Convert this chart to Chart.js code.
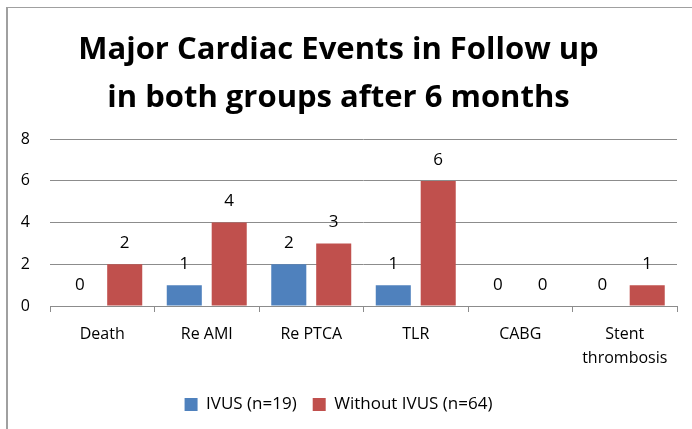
<!DOCTYPE html>
<html>
<head>
<meta charset="utf-8">
<script src="https://cdn.jsdelivr.net/npm/chart.js@4/dist/chart.umd.min.js"></script>
<style>
  body { margin: 0; background: #fff; }
  #wrap { position: relative; width: 692px; height: 429px; }
  #frame {
    position: absolute; left: 6px; top: 7px; right: 0; bottom: 0;
    border-left: 2px solid #a0a0a0; border-top: 1px solid #a0a0a0;
  }
  canvas { position: absolute; left: 0; top: 0; }
</style>
</head>
<body>
<div id="wrap">
  <div id="frame"></div>
  <canvas id="myChart" width="692" height="429"></canvas>
</div>
<script>
var categories = ["Death", "Re AMI", "Re PTCA", "TLR", "CABG", ["Stent", "thrombosis"]];
var ivusValues = [0, 1, 2, 1, 0, 0];
var withoutIvusValues = [2, 4, 3, 6, 0, 1];
var seriesNames = ["IVUS (n=19)", "Without IVUS (n=64)"];
var titleLines = ["Major Cardiac Events in Follow up", "in both groups after 6 months"];

var fontFamily = "'Open Sans', 'Liberation Sans', sans-serif";

// draws the numbers above each bar
var valueLabels = {
  id: "valueLabels",
  afterDatasetsDraw: function (chart) {
    var ctx = chart.ctx;
    ctx.save();
    ctx.font = "17px " + fontFamily;
    ctx.fillStyle = "#000";
    ctx.textAlign = "center";
    ctx.textBaseline = "middle";
    chart.data.datasets.forEach(function (ds, i) {
      var meta = chart.getDatasetMeta(i);
      meta.data.forEach(function (bar, j) {
        ctx.fillText(ds.data[j], bar.x, bar.y - 21);
      });
    });
    ctx.restore();
  }
};

var ctx = document.getElementById("myChart").getContext("2d");
var myChart = new Chart(ctx, {
  type: "bar",
  data: {
    labels: categories,
    datasets: [
      {
        label: seriesNames[0],
        data: ivusValues,
        backgroundColor: "#4F81BD",
        barPercentage: 0.78,
        categoryPercentage: 0.86
      },
      {
        label: seriesNames[1],
        data: withoutIvusValues,
        backgroundColor: "#C0504D",
        barPercentage: 0.78,
        categoryPercentage: 0.86
      }
    ]
  },
  options: {
    responsive: false,
    animation: false,
    layout: { padding: { left: 0, right: 15, top: 0, bottom: 6 } },
    plugins: {
      title: {
        display: true,
        text: titleLines,
        color: "#000",
        font: { family: fontFamily, size: 31, weight: "bold", lineHeight: 1.52 },
        padding: { top: 27, bottom: 18 }
      },
      legend: {
        position: "bottom",
        labels: {
          color: "#000",
          font: { family: fontFamily, size: 17 },
          boxWidth: 13,
          boxHeight: 13,
          padding: 16
        }
      },
      tooltip: { enabled: false }
    },
    scales: {
      x: {
        grid: {
          offset: true,
          drawOnChartArea: false,
          drawTicks: true,
          tickLength: 6,
          color: "#8c8c8c"
        },
        border: { color: "#8c8c8c", width: 1 },
        ticks: {
          color: "#000",
          font: { family: fontFamily, size: 16, lineHeight: 1.5 },
          maxRotation: 0,
          padding: 10
        }
      },
      y: {
        min: 0,
        max: 8,
        afterFit: function (axis) { axis.width = 50; },
        grid: { color: "#8c8c8c", drawTicks: false },
        border: { display: false },
        ticks: {
          stepSize: 2,
          color: "#000",
          font: { family: fontFamily, size: 16 },
          padding: 20
        }
      }
    }
  },
  plugins: [valueLabels]
});
</script>
</body>
</html>
